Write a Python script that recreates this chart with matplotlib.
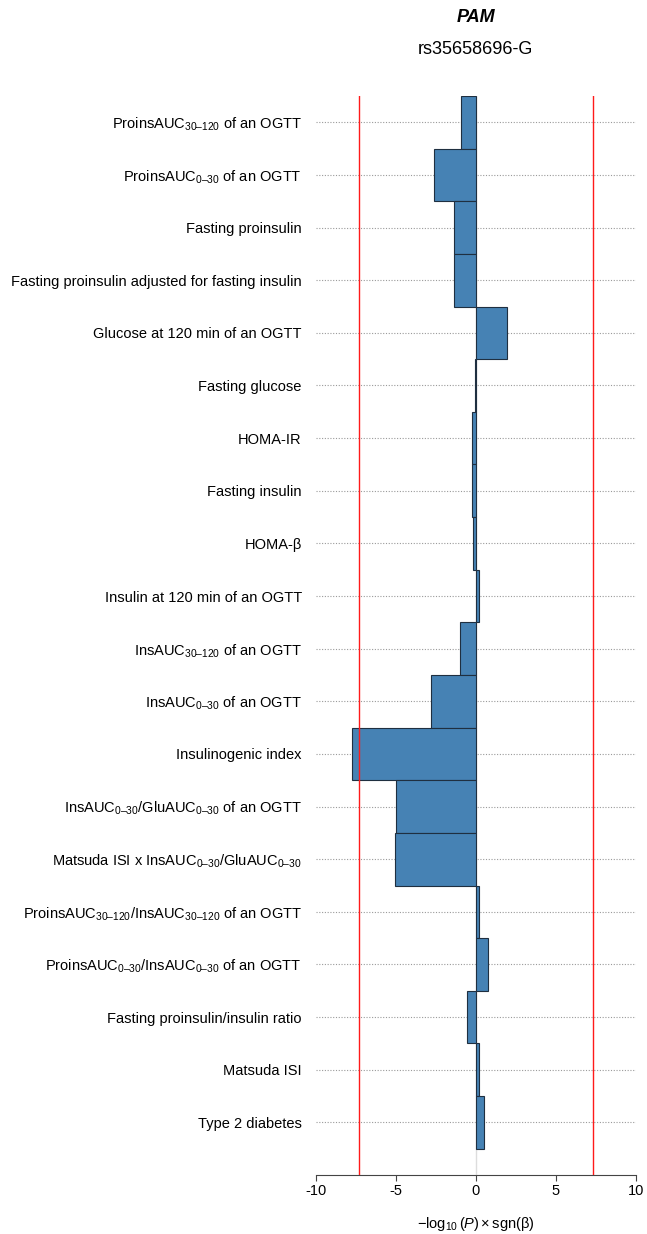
import numpy as np
import matplotlib
matplotlib.use("Agg")
from matplotlib import pyplot as plt

plt.rcParams['font.family'] = ['Liberation Sans', 'DejaVu Sans']
plt.rcParams['mathtext.fontset'] = 'custom'
plt.rcParams['mathtext.rm'] = 'Liberation Sans'
plt.rcParams['mathtext.it'] = 'Liberation Sans:italic'
plt.rcParams['mathtext.bf'] = 'Liberation Sans:bold'
plt.rcParams['axes.unicode_minus'] = False

gene = 'PAM'
variant = 'rs35658696-G'

# traits, top to bottom
traits = [
    r'ProinsAUC$_\mathregular{30–120}$ of an OGTT',
    r'ProinsAUC$_\mathregular{0–30}$ of an OGTT',
    'Fasting proinsulin',
    'Fasting proinsulin adjusted for fasting insulin',
    'Glucose at 120 min of an OGTT',
    'Fasting glucose',
    'HOMA-IR',
    'Fasting insulin',
    'HOMA-β',
    'Insulin at 120 min of an OGTT',
    r'InsAUC$_\mathregular{30–120}$ of an OGTT',
    r'InsAUC$_\mathregular{0–30}$ of an OGTT',
    'Insulinogenic index',
    r'InsAUC$_\mathregular{0–30}$/GluAUC$_\mathregular{0–30}$ of an OGTT',
    r'Matsuda ISI x InsAUC$_\mathregular{0–30}$/GluAUC$_\mathregular{0–30}$',
    r'ProinsAUC$_\mathregular{30–120}$/InsAUC$_\mathregular{30–120}$ of an OGTT',
    r'ProinsAUC$_\mathregular{0–30}$/InsAUC$_\mathregular{0–30}$ of an OGTT',
    'Fasting proinsulin/insulin ratio',
    'Matsuda ISI',
    'Type 2 diabetes',
]

# signed -log10(P)
signed_logp = [
    -0.90, -2.60, -1.34, -1.34, 1.93, -0.03, -0.25, -0.25, -0.21, 0.22,
    -0.98, -2.83, -7.72, -5.00, -5.05, 0.22, 0.74, -0.58, 0.22, 0.52,
]

gws = -np.log10(5e-8)

fig = plt.figure(figsize=(6.47, 12.34), dpi=100)
ax = fig.add_axes([0.488, 0.0478, 0.495, 0.8744])

y = np.arange(len(traits))

# dotted row guides and zero line behind the bars
ax.hlines(y, -10, 10, colors='#9a9a9a', linestyles=(0, (1, 1.5)), lw=0.8, zorder=0)
ax.axvline(0, color='#dddddd', lw=1, zorder=0.5)

ax.barh(y, signed_logp, height=1.0, color='#4682b4', edgecolor='#1f2f40',
        linewidth=0.8, zorder=2)

# genome-wide significance
for x in (-gws, gws):
    ax.axvline(x, color='#ff1a1a', lw=1, zorder=3)

ax.set_xlim(-10, 10)
ax.set_ylim(len(traits), -0.5)
ax.set_yticks(y)
ax.set_yticklabels(traits, fontsize=10.5)
ax.tick_params(axis='y', length=0, pad=10)
ax.set_xticks([-10, -5, 0, 5, 10])
ax.tick_params(axis='x', length=4.5, width=0.8, color='#444444', labelsize=10.5, pad=2)

for s in ('left', 'right', 'top'):
    ax.spines[s].set_visible(False)
ax.spines['bottom'].set_color('#444444')
ax.spines['bottom'].set_linewidth(0.8)

ax.set_xlabel(r'$-\log_{10}(P)\times\mathrm{sgn}(\mathrm{β})$', fontsize=10.5, labelpad=12)

fig.text(0.7355, 0.986, gene, fontsize=13, fontweight='bold', fontstyle='italic',
         ha='center', va='center')
fig.text(0.7355, 0.9595, variant, fontsize=13, ha='center', va='center')

fig.savefig('out.png', dpi=100)
